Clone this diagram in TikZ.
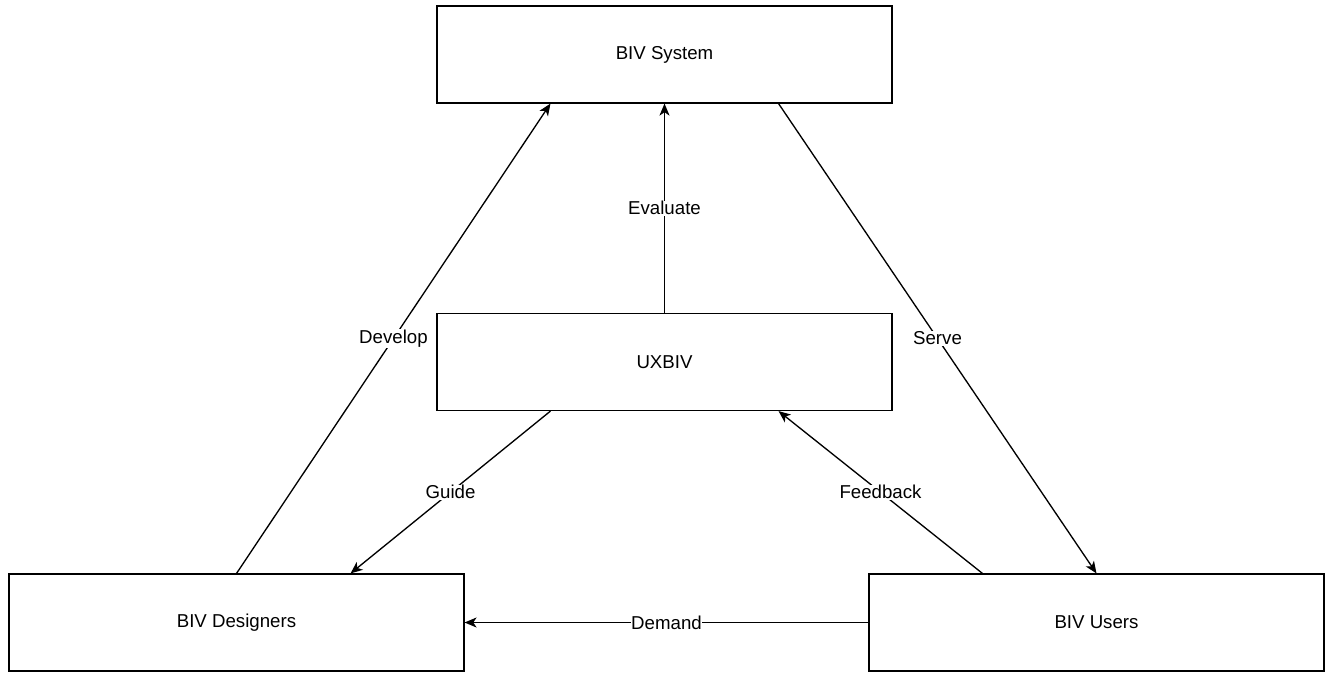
\documentclass[tikz,border=0pt]{standalone}
\usepackage{fontspec}
\setmainfont{Liberation Sans}
\usetikzlibrary{arrows.meta}
\usetikzlibrary{calc}
\usetikzlibrary{positioning}

\tikzset{
    block/.style={draw,line width=1.1pt,minimum width=341pt,minimum height=72.5pt,inner sep=0pt,font=\fontsize{14}{17}\selectfont},
    link/.style={line width=1pt,-{Stealth[length=9pt,width=7.5pt,inset=2.5pt]}},
    lbl/.style={fill=white,inner sep=0.5pt,font=\fontsize{14}{17}\selectfont}
}

\begin{document}
\begin{tikzpicture}[x=0.75pt,y=0.75pt]
\useasboundingbox (0,0) rectangle (1330,672);

\node[block] (sys) at (664.5,617.5) {BIV System};
\node[block] (ux) at (664.5,310) {UXBIV};
\node[block] (des) at (236.5,49.5) {BIV Designers};
\node[block] (usr) at (1096.5,49.5) {BIV Users};

%System
\draw[link] (des.north) -- node[lbl] {Develop} ($(sys.south west)!0.25!(sys.south east)$);
\draw[link] ($(sys.south west)!0.75!(sys.south east)$) -- node[lbl] {Serve} (usr.north);
\draw[link] (ux.north) -- node[lbl] {Evaluate} (sys.south);

%UXBIV
\draw[link] ($(ux.south west)!0.25!(ux.south east)$) -- node[lbl] {Guide} ($(des.north west)!0.75!(des.north east)$);
\draw[link] ($(usr.north west)!0.25!(usr.north east)$) -- node[lbl] {Feedback} ($(ux.south west)!0.75!(ux.south east)$);

%Users
\draw[link] (usr.west) -- node[lbl] {Demand} (des.east);
\end{tikzpicture}
\end{document}
